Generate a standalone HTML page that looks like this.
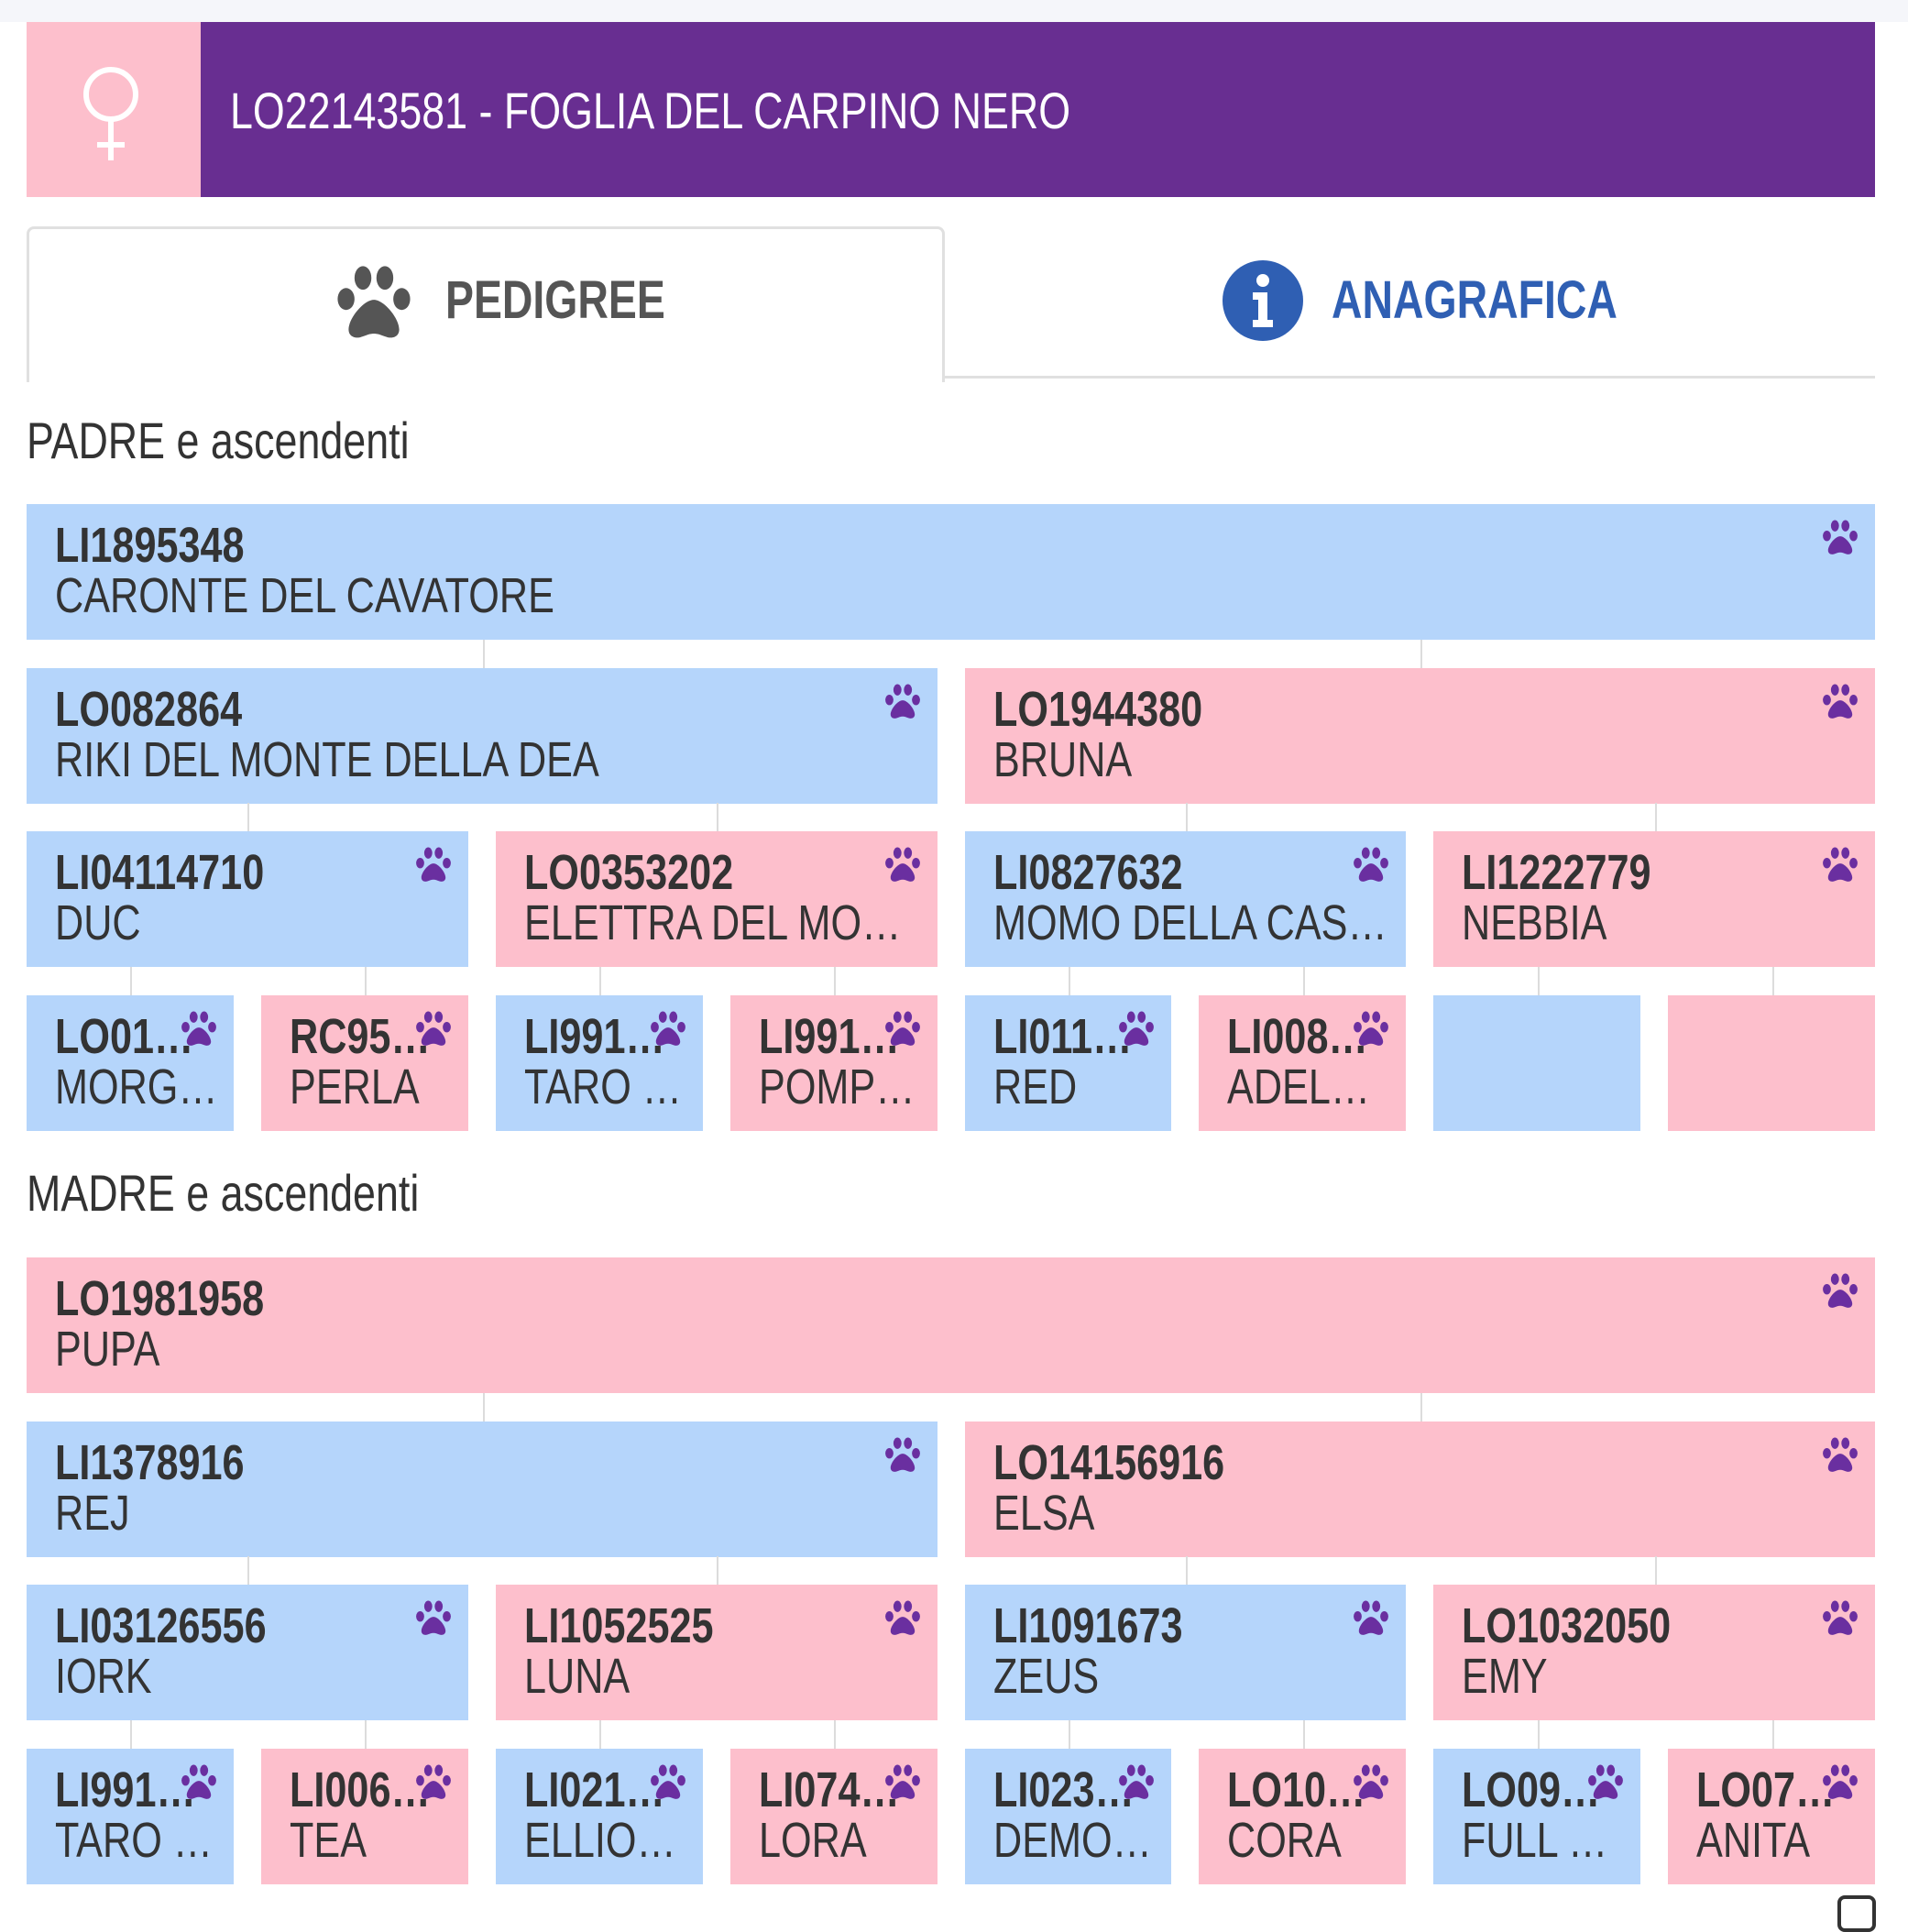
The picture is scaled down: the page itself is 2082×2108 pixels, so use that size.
<!DOCTYPE html>
<html><head><meta charset="utf-8">
<style>
*{box-sizing:border-box;margin:0;padding:0}
body{width:2082px;height:2095px;background:#fff;position:relative;overflow:hidden;font-family:"Liberation Sans",sans-serif;color:#333}
.abs{position:absolute}
.c{display:inline-block;transform:scaleX(.8);transform-origin:left center;white-space:nowrap}
.row{position:absolute;left:29px;width:2017px;height:148px;display:flex;gap:30px}
.b{flex:1;position:relative;overflow:hidden}
.bl{background:#b5d5fb}.pk{background:#fdbfcc}
.con{position:absolute;width:2px;height:31px;background:#dcdcdc}
.code{position:absolute;left:31px;top:14px;font-size:54px;font-weight:700;color:#333}
.name{position:absolute;left:31px;top:69px;font-size:54px;color:#333}
.paw{position:absolute;right:16px;top:14px;width:44px;height:44px}
</style></head><body>
<svg width="0" height="0" style="position:absolute"><defs>
<g id="pw"><ellipse cx="17" cy="47" rx="10" ry="13"/><ellipse cx="37" cy="22" rx="10" ry="14"/><ellipse cx="63" cy="22" rx="10" ry="14"/><ellipse cx="83" cy="47" rx="10" ry="13"/><path d="M50 48c-12 0-30 22-30 35 0 10 10 11 15 9 6-2 10-4 15-4s9 2 15 4c5 2 15 1 15-9 0-13-18-35-30-35z"/></g>
</defs></svg>

<div class="abs" style="left:0;top:0;width:2082px;height:24px;background:#f5f6fa"></div>
<div class="abs" style="left:29px;top:24px;width:190px;height:191px;background:#fdbfcc"></div>
<svg class="abs" style="left:86px;top:70px" width="70" height="110" viewBox="0 0 70 110"><circle cx="35" cy="33" r="27" fill="none" stroke="#fff" stroke-width="6"/><path d="M35 60v45M20 88h30" stroke="#fff" stroke-width="6"/></svg>
<div class="abs" style="left:219px;top:24px;width:1827px;height:191px;background:#682e91"></div>
<div class="abs" style="left:251px;top:88px;font-size:56px;color:#fff"><span class="c">LO22143581 - FOGLIA DEL CARPINO NERO</span></div>

<div class="abs" style="left:29px;top:247px;width:1002px;height:170px;border:3px solid #e0e0e0;border-bottom:none;border-radius:8px 8px 0 0"></div>
<div class="abs" style="left:1030px;top:410px;width:1016px;height:3px;background:#e0e0e0"></div>
<svg class="abs" style="left:361px;top:283px" width="94" height="92" viewBox="0 0 100 100" fill="#555"><use href="#pw"/></svg>
<div class="abs" style="left:486px;top:294px;font-size:58px;font-weight:700;color:#555"><span class="c">PEDIGREE</span></div>
<svg class="abs" style="left:1334px;top:284px" width="88" height="88" viewBox="0 0 88 88"><circle cx="44" cy="44" r="44" fill="#2f5fb3"/><circle cx="44" cy="22" r="7" fill="#fff"/><path d="M33 35h16v30h6v8H33v-8h6V43h-6z" fill="#fff"/></svg>
<div class="abs" style="left:1453px;top:294px;font-size:58px;font-weight:700;color:#2f5fb3"><span class="c">ANAGRAFICA</span></div>

<div class="abs" style="left:29px;top:448px;font-size:56px;color:#333"><span class="c">PADRE e ascendenti</span></div>
<div class="abs" style="left:29px;top:1269px;font-size:56px;color:#333"><span class="c">MADRE e ascendenti</span></div>

<!-- PADRE -->
<div class="row" style="top:550px"><div class="b bl"><div class="code"><span class="c">LI1895348</span></div><div class="name"><span class="c">CARONTE DEL CAVATORE</span></div><svg class="paw" viewBox="0 0 100 100" fill="#6a2fa0"><use href="#pw"/></svg></div></div>
<div class="row" style="top:729px">
<div class="b bl"><div class="code"><span class="c">LO082864</span></div><div class="name"><span class="c">RIKI DEL MONTE DELLA DEA</span></div><svg class="paw" viewBox="0 0 100 100" fill="#6a2fa0"><use href="#pw"/></svg></div>
<div class="b pk"><div class="code"><span class="c">LO1944380</span></div><div class="name"><span class="c">BRUNA</span></div><svg class="paw" viewBox="0 0 100 100" fill="#6a2fa0"><use href="#pw"/></svg></div></div>
<div class="row" style="top:907px">
<div class="b bl"><div class="code"><span class="c">LI04114710</span></div><div class="name"><span class="c">DUC</span></div><svg class="paw" viewBox="0 0 100 100" fill="#6a2fa0"><use href="#pw"/></svg></div>
<div class="b pk"><div class="code"><span class="c">LO0353202</span></div><div class="name"><span class="c">ELETTRA DEL MO…</span></div><svg class="paw" viewBox="0 0 100 100" fill="#6a2fa0"><use href="#pw"/></svg></div>
<div class="b bl"><div class="code"><span class="c">LI0827632</span></div><div class="name"><span class="c">MOMO DELLA CAS…</span></div><svg class="paw" viewBox="0 0 100 100" fill="#6a2fa0"><use href="#pw"/></svg></div>
<div class="b pk"><div class="code"><span class="c">LI1222779</span></div><div class="name"><span class="c">NEBBIA</span></div><svg class="paw" viewBox="0 0 100 100" fill="#6a2fa0"><use href="#pw"/></svg></div></div>
<div class="row" style="top:1086px">
<div class="b bl"><div class="code"><span class="c">LO01…</span></div><div class="name"><span class="c">MORG…</span></div><svg class="paw" viewBox="0 0 100 100" fill="#6a2fa0"><use href="#pw"/></svg></div>
<div class="b pk"><div class="code"><span class="c">RC95…</span></div><div class="name"><span class="c">PERLA</span></div><svg class="paw" viewBox="0 0 100 100" fill="#6a2fa0"><use href="#pw"/></svg></div>
<div class="b bl"><div class="code"><span class="c">LI991…</span></div><div class="name"><span class="c">TARO …</span></div><svg class="paw" viewBox="0 0 100 100" fill="#6a2fa0"><use href="#pw"/></svg></div>
<div class="b pk"><div class="code"><span class="c">LI991…</span></div><div class="name"><span class="c">POMP…</span></div><svg class="paw" viewBox="0 0 100 100" fill="#6a2fa0"><use href="#pw"/></svg></div>
<div class="b bl"><div class="code"><span class="c">LI011…</span></div><div class="name"><span class="c">RED</span></div><svg class="paw" viewBox="0 0 100 100" fill="#6a2fa0"><use href="#pw"/></svg></div>
<div class="b pk"><div class="code"><span class="c">LI008…</span></div><div class="name"><span class="c">ADEL…</span></div><svg class="paw" viewBox="0 0 100 100" fill="#6a2fa0"><use href="#pw"/></svg></div>
<div class="b bl"></div><div class="b pk"></div></div>

<!-- MADRE -->
<div class="row" style="top:1372px"><div class="b pk"><div class="code"><span class="c">LO1981958</span></div><div class="name"><span class="c">PUPA</span></div><svg class="paw" viewBox="0 0 100 100" fill="#6a2fa0"><use href="#pw"/></svg></div></div>
<div class="row" style="top:1551px">
<div class="b bl"><div class="code"><span class="c">LI1378916</span></div><div class="name"><span class="c">REJ</span></div><svg class="paw" viewBox="0 0 100 100" fill="#6a2fa0"><use href="#pw"/></svg></div>
<div class="b pk"><div class="code"><span class="c">LO14156916</span></div><div class="name"><span class="c">ELSA</span></div><svg class="paw" viewBox="0 0 100 100" fill="#6a2fa0"><use href="#pw"/></svg></div></div>
<div class="row" style="top:1729px">
<div class="b bl"><div class="code"><span class="c">LI03126556</span></div><div class="name"><span class="c">IORK</span></div><svg class="paw" viewBox="0 0 100 100" fill="#6a2fa0"><use href="#pw"/></svg></div>
<div class="b pk"><div class="code"><span class="c">LI1052525</span></div><div class="name"><span class="c">LUNA</span></div><svg class="paw" viewBox="0 0 100 100" fill="#6a2fa0"><use href="#pw"/></svg></div>
<div class="b bl"><div class="code"><span class="c">LI1091673</span></div><div class="name"><span class="c">ZEUS</span></div><svg class="paw" viewBox="0 0 100 100" fill="#6a2fa0"><use href="#pw"/></svg></div>
<div class="b pk"><div class="code"><span class="c">LO1032050</span></div><div class="name"><span class="c">EMY</span></div><svg class="paw" viewBox="0 0 100 100" fill="#6a2fa0"><use href="#pw"/></svg></div></div>
<div class="row" style="top:1908px">
<div class="b bl"><div class="code"><span class="c">LI991…</span></div><div class="name"><span class="c">TARO …</span></div><svg class="paw" viewBox="0 0 100 100" fill="#6a2fa0"><use href="#pw"/></svg></div>
<div class="b pk"><div class="code"><span class="c">LI006…</span></div><div class="name"><span class="c">TEA</span></div><svg class="paw" viewBox="0 0 100 100" fill="#6a2fa0"><use href="#pw"/></svg></div>
<div class="b bl"><div class="code"><span class="c">LI021…</span></div><div class="name"><span class="c">ELLIO…</span></div><svg class="paw" viewBox="0 0 100 100" fill="#6a2fa0"><use href="#pw"/></svg></div>
<div class="b pk"><div class="code"><span class="c">LI074…</span></div><div class="name"><span class="c">LORA</span></div><svg class="paw" viewBox="0 0 100 100" fill="#6a2fa0"><use href="#pw"/></svg></div>
<div class="b bl"><div class="code"><span class="c">LI023…</span></div><div class="name"><span class="c">DEMO…</span></div><svg class="paw" viewBox="0 0 100 100" fill="#6a2fa0"><use href="#pw"/></svg></div>
<div class="b pk"><div class="code"><span class="c">LO10…</span></div><div class="name"><span class="c">CORA</span></div><svg class="paw" viewBox="0 0 100 100" fill="#6a2fa0"><use href="#pw"/></svg></div>
<div class="b bl"><div class="code"><span class="c">LO09…</span></div><div class="name"><span class="c">FULL …</span></div><svg class="paw" viewBox="0 0 100 100" fill="#6a2fa0"><use href="#pw"/></svg></div>
<div class="b pk"><div class="code"><span class="c">LO07…</span></div><div class="name"><span class="c">ANITA</span></div><svg class="paw" viewBox="0 0 100 100" fill="#6a2fa0"><use href="#pw"/></svg></div></div>

<!-- connectors -->
<div class="con" style="left:527px;top:698px"></div><div class="con" style="left:1550px;top:698px"></div>
<div class="con" style="left:270px;top:876px"></div><div class="con" style="left:782px;top:876px"></div><div class="con" style="left:1294px;top:876px"></div><div class="con" style="left:1806px;top:876px"></div>
<div class="con" style="left:142px;top:1055px"></div><div class="con" style="left:398px;top:1055px"></div><div class="con" style="left:654px;top:1055px"></div><div class="con" style="left:910px;top:1055px"></div><div class="con" style="left:1166px;top:1055px"></div><div class="con" style="left:1422px;top:1055px"></div><div class="con" style="left:1678px;top:1055px"></div><div class="con" style="left:1934px;top:1055px"></div>
<div class="con" style="left:527px;top:1520px"></div><div class="con" style="left:1550px;top:1520px"></div>
<div class="con" style="left:270px;top:1698px"></div><div class="con" style="left:782px;top:1698px"></div><div class="con" style="left:1294px;top:1698px"></div><div class="con" style="left:1806px;top:1698px"></div>
<div class="con" style="left:142px;top:1877px"></div><div class="con" style="left:398px;top:1877px"></div><div class="con" style="left:654px;top:1877px"></div><div class="con" style="left:910px;top:1877px"></div><div class="con" style="left:1166px;top:1877px"></div><div class="con" style="left:1422px;top:1877px"></div><div class="con" style="left:1678px;top:1877px"></div><div class="con" style="left:1934px;top:1877px"></div>

<div class="abs" style="left:2005px;top:2068px;width:42px;height:40px;border:4px solid #333;border-radius:8px"></div>
</body></html>
